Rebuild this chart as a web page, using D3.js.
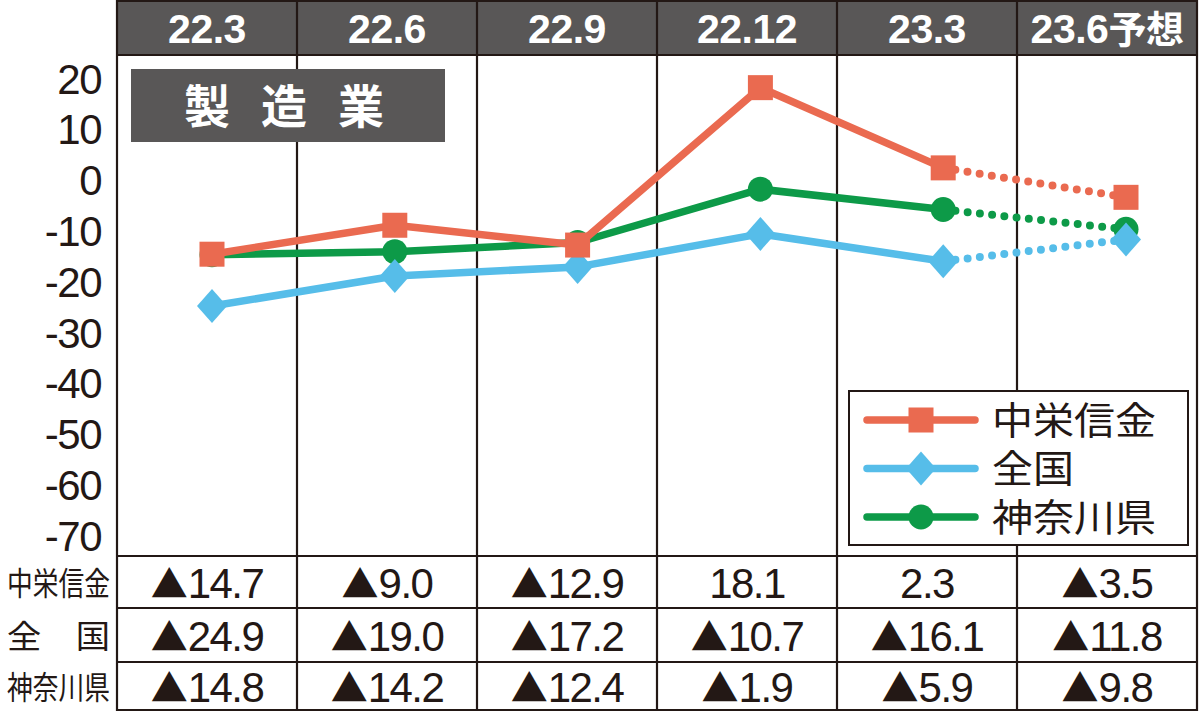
<!DOCTYPE html>
<html>
<head>
<meta charset="utf-8">
<script src="https://cdn.jsdelivr.net/npm/d3@7"></script>
<style>
  body { margin: 0; background: #fff; }
  svg { display: block; }
  .num { font-family: "Liberation Sans", Arial, sans-serif; }
  .jp { font-family: "Noto Sans CJK JP", sans-serif; }
</style>
</head>
<body>
<div id="chart"></div>
<script>
// 期間
var periods = ["22.3", "22.6", "22.9", "22.12", "23.3", "23.6予想"];

// 系列
var seriesNames = ["中栄信金", "全国", "神奈川県"];
var rowLabels = ["中栄信金", "全　国", "神奈川県"];
var chuei = [-14.7, -9.0, -12.9, 18.1, 2.3, -3.5];
var zenkoku = [-24.9, -19.0, -17.2, -10.7, -16.1, -11.8];
var kanagawa = [-14.8, -14.2, -12.4, -1.9, -5.9, -9.8];

var yTicks = [20, 10, 0, -10, -20, -30, -40, -50, -60, -70];

var colors = {red: "#ea6a50", blue: "#56bde9", green: "#0d9a48"};
var ink = "#231815", headGray = "#595757";

var W = 1200, H = 713;
var gridL = 117, gridR = 1197, headB = 55, plotB = 556, rows = [556, 608, 662, 710];

var svg = d3.select("#chart").append("svg")
    .attr("width", W).attr("height", H);

// 列
var xBand = d3.scaleBand().domain(periods).range([gridL, gridR]).paddingInner(0).paddingOuter(0);
// マーカー位置
var xPt = d3.scalePoint().domain(periods).range([212, 1126]);
var y = d3.scaleLinear().domain([20, -70]).range([78, 535]);

// ヘッダー
svg.append("rect").attr("x", gridL).attr("y", 1).attr("width", gridR - gridL).attr("height", headB - 1)
    .attr("fill", headGray);
svg.selectAll("text.head").data(periods).enter().append("text")
    .attr("class", "head num")
    .attr("x", function(d) { return xBand(d) + xBand.bandwidth() / 2; })
    .attr("y", 43)
    .attr("text-anchor", "middle")
    .attr("fill", "#fff")
    .attr("font-weight", "bold")
    .attr("font-size", 41)
    .attr("letter-spacing", -0.5)
    .text(function(d) { return d; });
// 予想 は和文フォント
svg.selectAll("text.head").filter(function(d) { return d.indexOf("予想") >= 0; })
    .text(null)
    .call(function(t) {
      t.append("tspan").text("23.6");
      t.append("tspan").attr("class", "jp").attr("font-size", 38).text("予想");
    });

// 罫線
var grid = svg.append("g").attr("stroke", ink).attr("stroke-width", 2.2);
periods.forEach(function(p) {
  grid.append("line").attr("x1", xBand(p)).attr("x2", xBand(p)).attr("y1", 0).attr("y2", 711);
});
grid.append("line").attr("x1", gridR).attr("x2", gridR).attr("y1", 0).attr("y2", 711);
[1, headB].concat(rows).forEach(function(v) {
  grid.append("line").attr("x1", gridL - 1).attr("x2", gridR + 1).attr("y1", v).attr("y2", v);
});

// Y軸
var yAxis = d3.axisLeft(y).tickValues(yTicks).tickSize(0).tickPadding(0)
    .tickFormat(function(d) { return String(d); });
var ya = svg.append("g").attr("transform", "translate(101,0)").call(yAxis);
ya.select(".domain").remove();
ya.selectAll("text")
    .attr("font-family", "Liberation Sans, Arial, sans-serif")
    .attr("font-size", 42)
    .attr("letter-spacing", -1.5)
    .attr("fill", ink)
    .attr("dy", "0.36em");

// 製造業 ラベル
svg.append("rect").attr("x", 131).attr("y", 69).attr("width", 314).attr("height", 73).attr("fill", headGray);
svg.append("text").attr("class", "jp")
    .attr("x", 184).attr("y", 123)
    .attr("fill", "#fff").attr("font-weight", "bold").attr("font-size", 46)
    .attr("letter-spacing", 31)
    .text("製造業");

// 折れ線
var series = [
  {name: seriesNames[2], vals: kanagawa, color: colors.green, shape: "circle"},
  {name: seriesNames[1], vals: zenkoku, color: colors.blue, shape: "diamond"},
  {name: seriesNames[0], vals: chuei, color: colors.red, shape: "square"}
];

var line = d3.line()
    .x(function(d) { return xPt(d.p); })
    .y(function(d) { return y(d.v); });

function marker(g, shape, color) {
  if (shape === "circle") {
    g.append("circle").attr("r", 12.5).attr("fill", color);
  } else if (shape === "square") {
    g.append("rect").attr("x", -12.5).attr("y", -12.5).attr("width", 25).attr("height", 25).attr("fill", color);
  } else {
    g.append("path").attr("d", "M0,-17L15,0L0,17L-15,0Z").attr("fill", color);
  }
}

series.forEach(function(s) {
  var pts = s.vals.map(function(v, i) { return {p: periods[i], v: v}; });
  var g = svg.append("g");
  g.append("path").datum(pts.slice(0, 5)).attr("d", line)
      .attr("fill", "none").attr("stroke", s.color).attr("stroke-width", 7.5)
      .attr("stroke-linejoin", "round");
  g.append("path").datum(pts.slice(4)).attr("d", line)
      .attr("fill", "none").attr("stroke", s.color).attr("stroke-width", 8)
      .attr("stroke-linecap", "round").attr("stroke-dasharray", "0 12.3");
  pts.forEach(function(d) {
    var m = g.append("g").attr("transform", "translate(" + xPt(d.p) + "," + y(d.v) + ")");
    marker(m, s.shape, s.color);
  });
});

// 凡例
var leg = svg.append("g");
leg.append("rect").attr("x", 849).attr("y", 391).attr("width", 339).attr("height", 154)
    .attr("fill", "#fff").attr("stroke", ink).attr("stroke-width", 2);
var legItems = [series[2], series[1], series[0]];
legItems.forEach(function(s, i) {
  var ly = 420 + i * 48.5;
  leg.append("line").attr("x1", 867).attr("x2", 975).attr("y1", ly).attr("y2", ly)
      .attr("stroke", s.color).attr("stroke-width", 7.5).attr("stroke-linecap", "round");
  marker(leg.append("g").attr("transform", "translate(921," + ly + ")"), s.shape, s.color);
  leg.append("text").attr("class", "jp")
      .attr("x", 992).attr("y", ly).attr("dy", "0.36em")
      .attr("font-size", 38).attr("fill", ink)
      .attr("textLength", function() { return s.name.length * 41; })
      .attr("lengthAdjust", "spacingAndGlyphs")
      .text(s.name);
});

// 数表
var tableVals = [chuei, zenkoku, kanagawa];
var rowMid = [583, 636, 687];
tableVals.forEach(function(vals, r) {
  svg.append("text").attr("class", "jp")
      .attr("x", 7).attr("y", rowMid[r]).attr("dy", "0.36em")
      .attr("font-size", 32).attr("fill", ink)
      .attr("textLength", 103).attr("lengthAdjust", "spacingAndGlyphs")
      .text(rowLabels[r]);
  var t = svg.selectAll(null).data(vals).enter().append("text")
      .attr("class", "num")
      .attr("x", function(d, i) { return xBand(periods[i]) + xBand.bandwidth() / 2; })
      .attr("y", rowMid[r]).attr("dy", "0.36em")
      .attr("text-anchor", "middle")
      .attr("font-size", 42).attr("letter-spacing", -1.5)
      .attr("fill", ink);
  t.filter(function(d) { return d < 0; }).append("tspan")
      .attr("class", "jp").attr("font-size", 37).attr("letter-spacing", 0)
      .text("▲");
  t.append("tspan").text(function(d) { return Math.abs(d).toFixed(1); });
});
</script>
</body>
</html>
